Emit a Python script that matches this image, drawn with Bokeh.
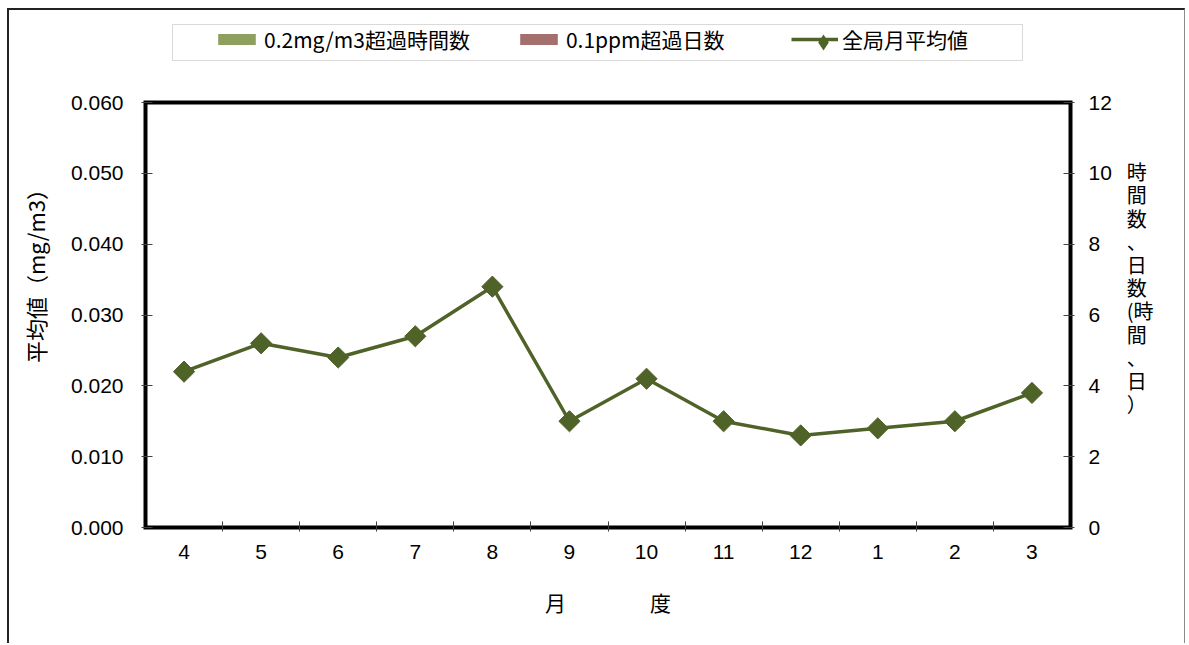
import numpy as np
from bokeh.plotting import figure
from bokeh.models import (Range1d, LinearAxis, FixedTicker, NumeralTickFormatter,
                          Legend, LegendItem, BoxAnnotation)
from bokeh.embed import file_html
from bokeh.resources import INLINE

# ---- data ----
months = ["4", "5", "6", "7", "8", "9", "10", "11", "12", "1", "2", "3"]
monthly_avg = [0.022, 0.026, 0.024, 0.027, 0.034, 0.015, 0.021, 0.015, 0.013, 0.014, 0.015, 0.019]
hours_over_02 = [0, 0, 0, 0, 0, 0, 0, 0, 0, 0, 0, 0]
days_over_01 = [0, 0, 0, 0, 0, 0, 0, 0, 0, 0, 0, 0]
left_ticks = [0.0, 0.01, 0.02, 0.03, 0.04, 0.05, 0.06]
right_ticks = [0, 2, 4, 6, 8, 10, 12]

series_names = ["0.2mg/m3超過時間数", "0.1ppm超過日数", "全局月平均値"]
left_title = "平均値（mg/m3）"
right_title = "時間数、日数(時間、日）"
x_title = "月　　　　度"

# ---- styles / geometry (page pixels) ----
LINE_C = "#4F6228"
BAR1_C = "#8DA060"
BAR2_C = "#A46F6D"
NUM_FONT = "Liberation Sans"
JP_FONT = "Noto Sans CJK JP"

BOX_L, BOX_R, BOX_T, BOX_B = 145, 1070, 102, 527     # plot-area rectangle
FR_L, FR_R, FR_T, FR_B = 141, 1074, 20, 531          # bokeh frame (covers legend area)
HOST_X, HOST_Y, HOST_W, HOST_H = 9, 10, 1178, 635     # canvas origin / size

n = len(months)
x = [i + 0.5 for i in range(n)]

# ranges so that the plot-area rectangle sits at BOX_* in pixels
xs = n / (BOX_R - BOX_L)
x_lo, x_hi = -(BOX_L - FR_L) * xs, n + (FR_R - BOX_R) * xs
y0, y1 = left_ticks[0], left_ticks[-1]
ys = (y1 - y0) / (BOX_B - BOX_T)
r0, r1 = right_ticks[0], right_ticks[-1]
rs = (r1 - r0) / (BOX_B - BOX_T)

p = figure(width=HOST_W, height=HOST_H, output_backend="svg", toolbar_location=None,
           x_range=Range1d(x_lo, x_hi),
           y_range=Range1d(y0 - (FR_B - BOX_B) * ys, y1 + (BOX_T - FR_T) * ys),
           min_border_left=FR_L - HOST_X, min_border_right=HOST_X + HOST_W - FR_R,
           min_border_top=FR_T - HOST_Y, min_border_bottom=HOST_Y + HOST_H - FR_B,
           x_axis_type=None, y_axis_type=None)
p.styles = {"margin-left": "7px", "margin-top": "8px",
            "border-top": "2px solid #222222", "border-left": "2px solid #222222",
            "border-right": "1px solid #8a8a8a"}
p.extra_y_ranges = {"right": Range1d(r0 - (FR_B - BOX_B) * rs, r1 + (BOX_T - FR_T) * rs)}
p.xgrid.visible = False
p.ygrid.visible = False
p.outline_line_color = None
p.background_fill_color = "white"
p.border_fill_color = "white"

# bars (secondary axis) - all zero
bw = 0.3
b1 = p.vbar(x=[v - bw / 2 for v in x], top=hours_over_02, width=bw, y_range_name="right",
            fill_color=BAR1_C, line_color=None)
b2 = p.vbar(x=[v + bw / 2 for v in x], top=days_over_01, width=bw, y_range_name="right",
            fill_color=BAR2_C, line_color=None)

# line + markers
ln = p.line(x, monthly_avg, line_color=LINE_C, line_width=3.5)
dm = p.scatter(x, monthly_avg, marker="diamond", size=14, fill_color=LINE_C, line_color=None)
sq = p.scatter(x, monthly_avg, marker="square", angle=np.pi / 4, size=15,
               fill_color=LINE_C, line_color=LINE_C, line_width=1)

# plot-area rectangle (thick black)
p.quad(left=0, right=n, bottom=y0, top=y1, fill_color=None, line_color="black",
       line_width=4, line_join="miter")

# axes
xax = LinearAxis(ticker=FixedTicker(ticks=x, minor_ticks=list(range(1, n))),
                 major_label_overrides={xv: m for xv, m in zip(x, months)})
xax.axis_line_color = None
xax.major_tick_in = 0
xax.major_tick_out = 0
xax.minor_tick_in = 10
xax.minor_tick_out = 0
xax.minor_tick_line_color = "#404040"
xax.major_label_text_font = NUM_FONT
xax.major_label_text_font_size = "21px"
xax.major_label_text_color = "black"
xax.major_label_standoff = 13
xax.axis_label = x_title
xax.axis_label_text_font = JP_FONT
xax.axis_label_text_font_size = "21px"
xax.axis_label_text_font_style = "normal"
xax.axis_label_text_color = "black"
xax.axis_label_standoff = 25
p.add_layout(xax, "below")

yax = LinearAxis(ticker=FixedTicker(ticks=left_ticks), formatter=NumeralTickFormatter(format="0.000"))
yax.axis_line_color = None
yax.major_tick_in = 11
yax.major_tick_out = 0
yax.major_tick_line_color = "#404040"
yax.minor_tick_line_color = None
yax.major_label_text_font = NUM_FONT
yax.major_label_text_font_size = "21px"
yax.major_label_text_color = "black"
yax.major_label_standoff = 18
yax.axis_label = "\u2002" + left_title
yax.axis_label_text_font = JP_FONT
yax.axis_label_text_font_size = "22px"
yax.axis_label_text_font_style = "normal"
yax.axis_label_text_color = "black"
yax.axis_label_standoff = 17
p.add_layout(yax, "left")

vert = []
for ch in right_title:
    if vert and vert[-1] == "(":
        vert[-1] += ch
    else:
        vert.append(ch)
rax = LinearAxis(y_range_name="right", ticker=FixedTicker(ticks=right_ticks))
rax.axis_line_color = None
rax.major_tick_in = 11
rax.major_tick_out = 0
rax.major_tick_line_color = "#404040"
rax.minor_tick_line_color = None
rax.major_label_text_font = NUM_FONT
rax.major_label_text_font_size = "21px"
rax.major_label_text_color = "black"
rax.major_label_standoff = 14
rax.axis_label = "\n".join(["\u3000"] + vert)
rax.axis_label_orientation = "horizontal"
rax.axis_label_text_font = JP_FONT
rax.axis_label_text_font_size = "20px"
rax.axis_label_text_font_style = "normal"
rax.axis_label_text_line_height = 0.8
rax.axis_label_text_color = "black"
rax.axis_label_standoff = 12
p.add_layout(rax, "right")

# legend box (frame-relative screen units)
p.add_layout(BoxAnnotation(left=172 - FR_L, right=1022 - FR_L, top=FR_B - 24, bottom=FR_B - 60,
                           left_units="screen", right_units="screen",
                           top_units="screen", bottom_units="screen",
                           fill_color="white", fill_alpha=1, line_color="#808080", line_width=1))

legend = Legend(items=[LegendItem(label=series_names[0], renderers=[b1]),
                       LegendItem(label=series_names[1], renderers=[b2]),
                       LegendItem(label=series_names[2], renderers=[ln])],
                orientation="horizontal", location=(213 - FR_L, FR_B - 54), margin=0, padding=0,
                spacing=45, glyph_width=47, glyph_height=14, label_standoff=4,
                label_width=180, label_height=24,
                border_line_color=None, background_fill_alpha=0,
                label_text_font=JP_FONT, label_text_font_size="21px", label_text_color="black")
p.add_layout(legend, "center")
legend2 = Legend(items=[LegendItem(label=" ", renderers=[dm])],
                 location=(799 - FR_L, FR_B - 61.5), margin=0, padding=0,
                 glyph_width=48, glyph_height=40,
                 border_line_color=None, background_fill_alpha=0, label_text_font_size="8px")
p.add_layout(legend2, "center")

open("out.html", "w").write(file_html(p, INLINE))
